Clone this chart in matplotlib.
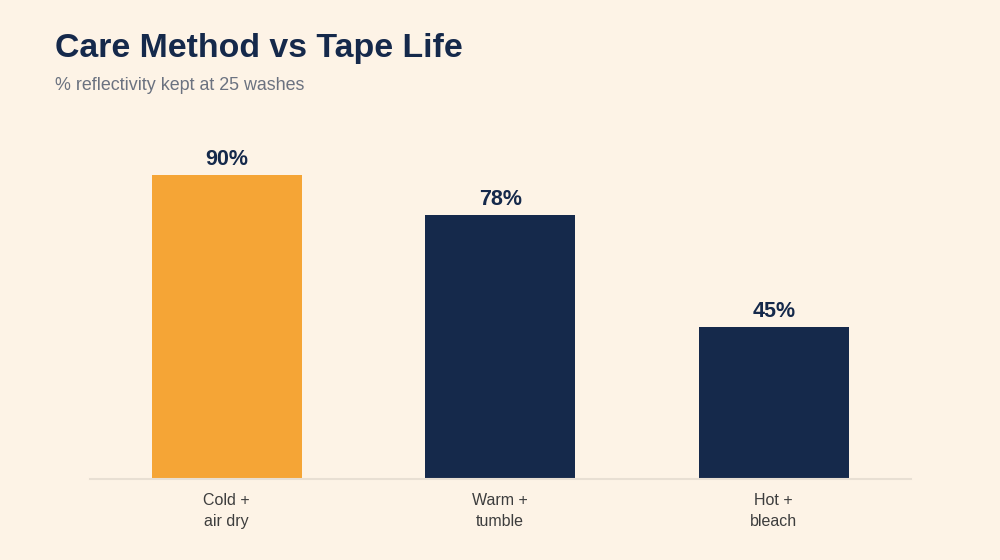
import matplotlib.pyplot as plt

# data
categories = ["Cold +\nair dry", "Warm +\ntumble", "Hot +\nbleach"]
kept = [90, 78, 45]
highlight = 0

bg = "#fdf3e6"
navy = "#15294b"
orange = "#f5a536"

plt.rcParams['font.family'] = ['Liberation Sans', 'DejaVu Sans']

fig = plt.figure(figsize=(10, 5.6), dpi=100, facecolor=bg)
ax = fig.add_axes([0.09, 1 - 479 / 560, 0.8205, (479 - 141) / 560])
ax.set_facecolor(bg)

colors = [orange if i == highlight else navy for i in range(len(kept))]
x = range(len(categories))
ax.bar(x, kept, width=0.55, color=colors, zorder=2)

for i, v in enumerate(kept):
    ax.text(i, v + 1.5, f"{v}%", ha="center", va="bottom",
            fontsize=15.5, fontweight="bold", color=navy)

ax.set_xlim(-0.5, 2.5)
ax.set_ylim(0, 100)
ax.set_xticks(list(x))
ax.set_xticklabels(categories, fontsize=11.5, color="#3d3d3d", linespacing=1.5)
ax.tick_params(axis="x", length=0, pad=10)
ax.set_yticks([])
for s in ["top", "right", "left"]:
    ax.spines[s].set_visible(False)
ax.spines["bottom"].set_color("#e8dfd3")
ax.spines["bottom"].set_linewidth(1.5)

fig.text(0.055, 1 - 48 / 560, "Care Method vs Tape Life", fontsize=24.4,
         fontweight="bold", color=navy, va="center")
fig.text(0.055, 1 - 86 / 560, "% reflectivity kept at 25 washes", fontsize=12.9,
         color="#6b7280", va="center")

fig.savefig("out.png", dpi=100, facecolor=bg)
